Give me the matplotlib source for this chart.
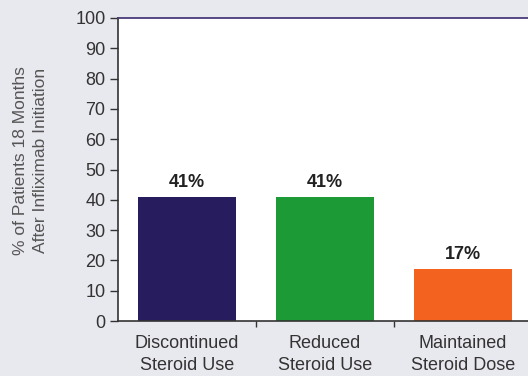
import matplotlib.pyplot as plt
import numpy as np

plt.rcParams['font.family'] = ['Liberation Sans', 'DejaVu Sans']

# Data
categories = ["Discontinued\nSteroid Use", "Reduced\nSteroid Use", "Maintained\nSteroid Dose"]
values = [41, 41, 17]
labels = ["41%", "41%", "17%"]
colors = ["#261c5e", "#1b9a35", "#f4621f"]

fig = plt.figure(figsize=(5.28, 3.76), dpi=100)
fig.patch.set_facecolor("#e8e8ef")

# axes run off the right edge as in the original scan
ax = fig.add_axes([118 / 528, 1 - 321 / 376, (532 - 118) / 528, (321 - 18) / 376])
ax.set_facecolor("white")

x = np.arange(len(values))
ax.bar(x, values, width=0.715, color=colors)

for xi, v, lab in zip(x, values, labels):
    ax.text(xi, v + 2, lab, ha="center", va="bottom", fontsize=13,
            fontweight="bold", color="#222222")

ax.set_xlim(-0.5, 2.5)
ax.set_ylim(0, 100)
ax.set_yticks(np.arange(0, 101, 10))
ax.tick_params(axis="y", direction="out", length=6, width=1, colors="#333333",
               labelsize=13, pad=3)

# category boundary ticks on the x axis
ax.set_xticks([0.5, 1.5], minor=False)
ax.set_xticklabels(["", ""])
ax.set_xticks(x, minor=True)
ax.set_xticklabels(categories, minor=True, fontsize=13, color="#333333",
                   linespacing=1.4)
ax.tick_params(axis="x", which="minor", length=0, pad=10)
ax.tick_params(axis="x", which="major", length=4, width=1, color="#333333")

ax.set_ylabel("% of Patients 18 Months\nAfter Infliximab Initiation",
              fontsize=12.5, color="#555555", linespacing=1.45)
ax.yaxis.set_label_coords(-0.168, 0.53)

for side in ["left", "bottom"]:
    ax.spines[side].set_color("#333333")
    ax.spines[side].set_linewidth(1.2)
ax.spines["top"].set_color("#4a3a7a")
ax.spines["top"].set_linewidth(1.3)
ax.spines["right"].set_visible(False)

fig.savefig("out.png", dpi=100, facecolor=fig.get_facecolor())
